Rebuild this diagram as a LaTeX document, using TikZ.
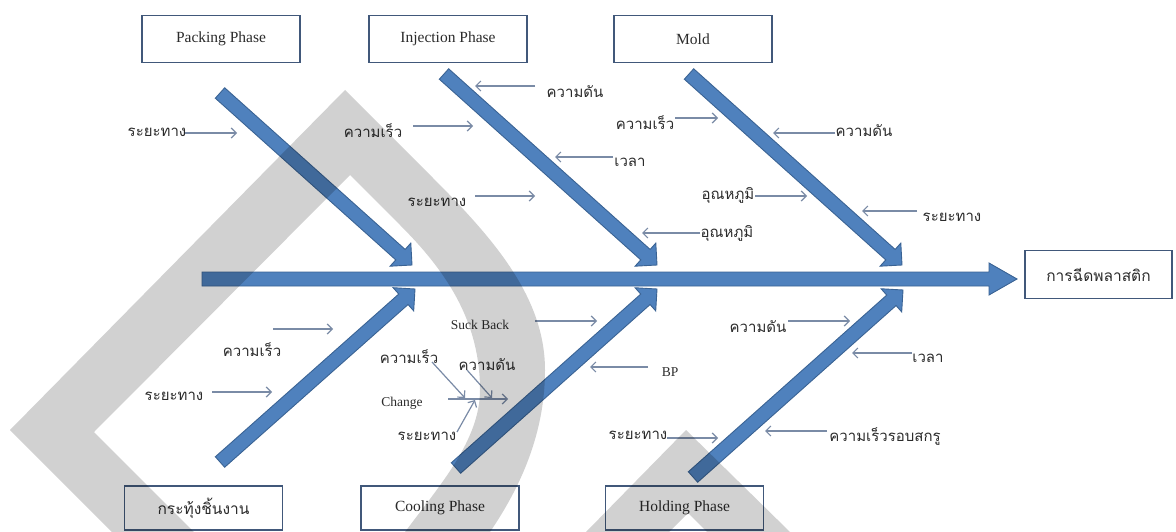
\documentclass[tikz,border=0pt]{standalone}
\usepackage{fontspec}
\setmainfont{Liberation Serif}
\newfontfamily\thaifont[Script=Thai]{Loma}
\usetikzlibrary{arrows.meta,calc}
\definecolor{boneblue}{HTML}{4F81BD}
\definecolor{boneedge}{HTML}{3A6394}
\definecolor{boxedge}{HTML}{41587A}
\definecolor{lblarrow}{HTML}{7A8BA6}
\definecolor{txt}{HTML}{2B2B2B}
\tikzset{
  bonestyle/.style={fill=boneblue, draw=boneedge, line width=0.9pt, line join=miter},
  catbox/.style={draw=boxedge, line width=1.5pt, fill=white, minimum width=158pt, minimum height=47pt, inner sep=0pt, text=txt, font=\fontsize{15.5}{17}\selectfont},
  thlab/.style={inner sep=0pt, text=txt, font=\thaifont\fontsize{15}{17}\selectfont},
  enlab/.style={inner sep=0pt, text=txt, font=\fontsize{13.5}{15}\selectfont},
  lab/.style={draw=lblarrow, line width=1.2pt, -{Straight Barb[length=5pt,width=10pt]}},
  water/.style={fill=black, fill opacity=0.18, draw=none}
}
\newcommand\bonearrow[5]{%
  \draw[bonestyle] let \p1=(#1), \p2=(#2), \n1={atan2(\y2-\y1,\x2-\x1)}, \n2={veclen(\x2-\x1,\y2-\y1)} in
    ($(\p1)+(\n1+90:#3pt)$) --
    ($(\p1)+(\n1:\n2-#4pt)+(\n1+90:#3pt)$) --
    ($(\p1)+(\n1:\n2-#4pt)+(\n1+90:#5pt)$) --
    (\p2) --
    ($(\p1)+(\n1:\n2-#4pt)+(\n1-90:#5pt)$) --
    ($(\p1)+(\n1:\n2-#4pt)+(\n1-90:#3pt)$) --
    ($(\p1)+(\n1-90:#3pt)$) -- cycle;}
\begin{document}
\begin{tikzpicture}[x=1pt,y=-1pt]
\useasboundingbox (0,0) rectangle (1176,532);
\fill[white] (0,0) rectangle (1176,532);

% bone coordinates
\coordinate (spS) at (202,279);
\coordinate (spT) at (1017,279);
\coordinate (b1S) at (220,93);  \coordinate (b1T) at (412,265);
\coordinate (b2S) at (444,74);  \coordinate (b2T) at (657,265);
\coordinate (b3S) at (689,74);  \coordinate (b3T) at (902,265);
\coordinate (b4S) at (220,462); \coordinate (b4T) at (415,289);
\coordinate (b5S) at (456,468); \coordinate (b5T) at (657,289);
\coordinate (b6S) at (693,477); \coordinate (b6T) at (903,290);

\bonearrow{spS}{spT}{7}{28}{16}
\bonearrow{b1S}{b1T}{7}{15.5}{15.5}
\bonearrow{b2S}{b2T}{7}{15.5}{15.5}
\bonearrow{b3S}{b3T}{7}{15.5}{15.5}
\bonearrow{b4S}{b4T}{7}{15.5}{15.5}
\bonearrow{b5S}{b5T}{7}{15.5}{15.5}
\bonearrow{b6S}{b6T}{7}{15.5}{15.5}

% boxes
\node[catbox] (packing) at (221,39) {Packing Phase};
\node[catbox] (injection) at (448,39) {Injection Phase};
\node[catbox] (mold) at (693,39) {Mold};
\node[catbox, minimum width=147pt, minimum height=48pt] (effect) at (1098.5,274.5) {\thaifont การฉีดพลาสติก};
\node[catbox, minimum height=44pt] (eject) at (203.5,508) {\thaifont กระทุ้งชิ้นงาน};
\node[catbox, minimum height=44pt] (cooling) at (440,508) {Cooling Phase};
\node[catbox, minimum height=44pt] (holding) at (684.5,508) {Holding Phase};

% labels: Packing
\node[thlab] (p1) at (157,132) {ระยะทาง};
\coordinate (p1a) at (185,133); \coordinate (p1b) at (237,133);
\draw[lab] (p1a) -- (p1b);

% labels: Injection
\node[thlab] (i1) at (373,131) {ความเร็ว};
\coordinate (i1a) at (413,126); \coordinate (i1b) at (473,126);
\draw[lab] (i1a) -- (i1b);
\node[thlab] (i2) at (575,92) {ความดัน};
\coordinate (i2a) at (535,86); \coordinate (i2b) at (475,86);
\draw[lab] (i2a) -- (i2b);
\node[thlab] (i3) at (630,162) {เวลา};
\coordinate (i3a) at (613,157); \coordinate (i3b) at (555,157);
\draw[lab] (i3a) -- (i3b);
\node[thlab] (i4) at (437,202) {ระยะทาง};
\coordinate (i4a) at (475,196); \coordinate (i4b) at (535,196);
\draw[lab] (i4a) -- (i4b);
\node[thlab] (i5) at (727,233) {อุณหภูมิ};
\coordinate (i5a) at (700,233); \coordinate (i5b) at (642,233);
\draw[lab] (i5a) -- (i5b);

% labels: Mold
\node[thlab] (m1) at (645,123) {ความเร็ว};
\coordinate (m1a) at (675,118); \coordinate (m1b) at (718,118);
\draw[lab] (m1a) -- (m1b);
\node[thlab] (m2) at (864,131) {ความดัน};
\coordinate (m2a) at (835,133); \coordinate (m2b) at (773,133);
\draw[lab] (m2a) -- (m2b);
\node[thlab] (m3) at (728,195) {อุณหภูมิ};
\coordinate (m3a) at (755,196); \coordinate (m3b) at (807,196);
\draw[lab] (m3a) -- (m3b);
\node[thlab] (m4) at (952,217) {ระยะทาง};
\coordinate (m4a) at (917,211); \coordinate (m4b) at (862,211);
\draw[lab] (m4a) -- (m4b);

% labels: eject
\node[thlab] (e1) at (252,350) {ความเร็ว};
\coordinate (e1a) at (273,329); \coordinate (e1b) at (333,329);
\draw[lab] (e1a) -- (e1b);
\node[thlab] (e2) at (174,396) {ระยะทาง};
\coordinate (e2a) at (212,392); \coordinate (e2b) at (272,392);
\draw[lab] (e2a) -- (e2b);

% labels: Cooling
\node[enlab] (c1) at (480,325) {Suck Back};
\coordinate (c1a) at (535,321); \coordinate (c1b) at (597,321);
\draw[lab] (c1a) -- (c1b);
\node[enlab] (c2) at (670,372) {BP};
\coordinate (c2a) at (648,367); \coordinate (c2b) at (590,367);
\draw[lab] (c2a) -- (c2b);
\node[thlab] (c3) at (409,357) {ความเร็ว};
\node[thlab] (c4) at (487,365) {ความดัน};
\node[enlab] (c5) at (402,403) {Change};
\node[thlab] (c6) at (427,436) {ระยะทาง};
\coordinate (c5a) at (448,399); \coordinate (c5b) at (508,399);
\draw[lab] (c5a) -- (c5b);
\coordinate (c3a) at (432,362); \coordinate (c3b) at (465,398);
\draw[lab] (c3a) -- (c3b);
\coordinate (c4a) at (467,370); \coordinate (c4b) at (492,398);
\draw[lab] (c4a) -- (c4b);
\coordinate (c6a) at (457,432); \coordinate (c6b) at (475,400);
\draw[lab] (c6a) -- (c6b);

% labels: Holding
\node[thlab] (h1) at (758,327) {ความดัน};
\coordinate (h1a) at (788,321); \coordinate (h1b) at (850,321);
\draw[lab] (h1a) -- (h1b);
\node[thlab] (h2) at (928,358) {เวลา};
\coordinate (h2a) at (912,353); \coordinate (h2b) at (852,353);
\draw[lab] (h2a) -- (h2b);
\node[thlab] (h3) at (638,435) {ระยะทาง};
\coordinate (h3a) at (667,438); \coordinate (h3b) at (718,438);
\draw[lab] (h3a) -- (h3b);
\node[thlab] (h4) at (885,437) {ความเร็วรอบสกรู};
\coordinate (h4a) at (827,431); \coordinate (h4b) at (765,431);
\draw[lab] (h4a) -- (h4b);

% watermark
\fill[water] (112,532) -- (10,430) -- (345,90) -- (430,175)
  .. controls (490,235) and (545,295) .. (545,370)
  .. controls (545,440) and (515,495) .. (490,532)
  -- (405,532)
  .. controls (440,485) and (480,440) .. (480,390)
  .. controls (480,320) and (445,270) .. (400,225)
  -- (350,175) -- (94,432) -- (194,532) -- cycle;
\fill[water] (586,532) -- (686,430) -- (790,532) -- (707,532) -- (688,513) -- (669,532) -- cycle;
\end{tikzpicture}
\end{document}
